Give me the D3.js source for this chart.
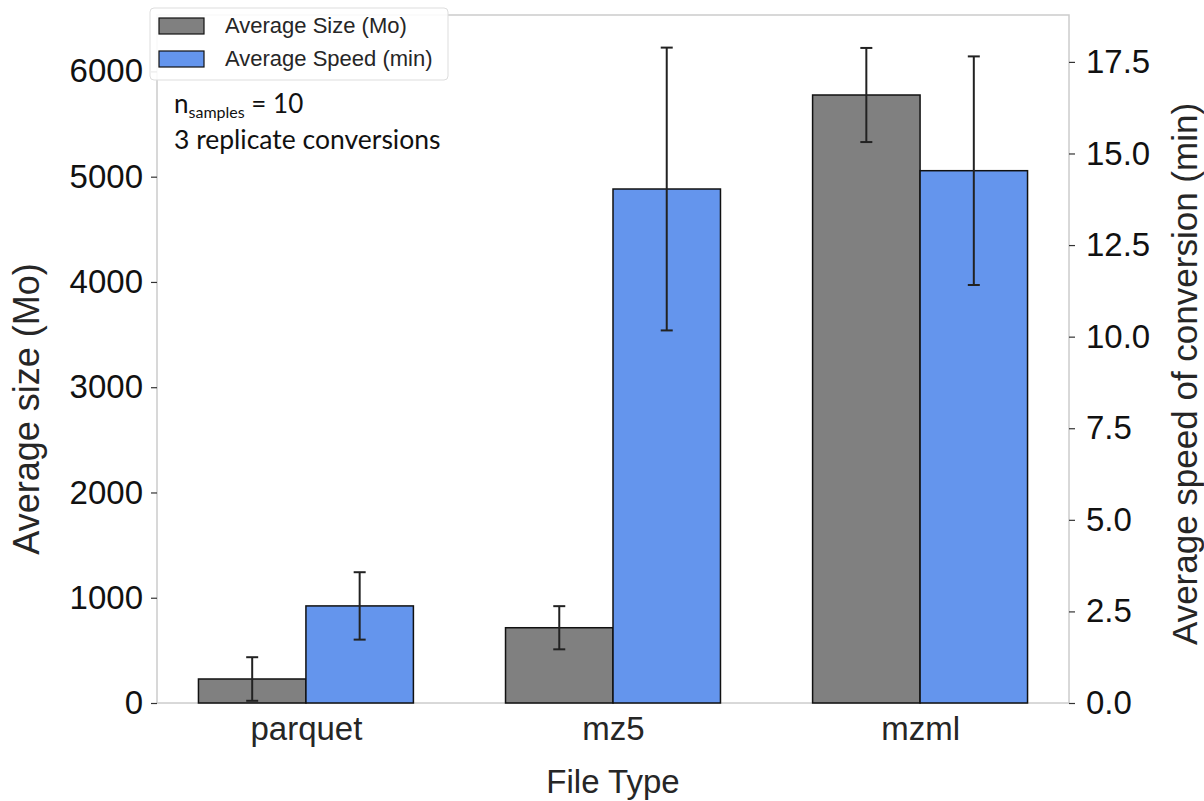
<!DOCTYPE html>
<html>
<head>
<meta charset="utf-8">
<script src="https://cdn.jsdelivr.net/npm/d3@7"></script>
<style>
  body { margin: 0; background: #fff; }
  text { font-family: "Liberation Sans", Arial, sans-serif; }
</style>
</head>
<body>
<div id="canvas"></div>
<script>
"use strict";

/* Data */
let categories = ["parquet", "mz5", "mzml"];
let sizeMean = [228, 715, 5776];
let sizeErr = [207, 205, 447];
let speedMean = [2.65, 14.03, 14.53];
let speedErr = [0.92, 3.86, 3.12];
let sizeTicks = [0, 1000, 2000, 3000, 4000, 5000, 6000];
let speedTicks = [0, 2.5, 5, 7.5, 10, 12.5, 15, 17.5];

/* SVG setup */
let svgWidth = 1204;
let svgHeight = 801;
let plotLeft = 157, plotRight = 1069, plotTop = 15, plotBottom = 703;
let barW = 0.35;

let svg = d3.select("#canvas")
  .append("svg")
  .attr("width", svgWidth)
  .attr("height", svgHeight);

/* Scales */
let xScale = d3.scaleLinear().domain([-0.485, 2.485]).range([plotLeft, plotRight]);
let ySize = d3.scaleLinear().domain([0, 6536]).range([plotBottom, plotTop]);
let ySpeed = d3.scaleLinear().domain([0, 18.78]).range([plotBottom, plotTop]);

/* Spines */
svg.append("rect")
  .attr("x", plotLeft)
  .attr("y", plotTop)
  .attr("width", plotRight - plotLeft)
  .attr("height", plotBottom - plotTop)
  .attr("fill", "none")
  .attr("stroke", "#cccccc")
  .attr("stroke-width", 1.5);

/* Bars */
function drawBars(means, yScale, offset, color) {
  for (let i = 0; i < categories.length; i++) {
    let x0 = xScale(i + offset);
    let x1 = xScale(i + offset + barW);
    svg.append("rect")
      .attr("x", x0)
      .attr("y", yScale(means[i]))
      .attr("width", x1 - x0)
      .attr("height", yScale(0) - yScale(means[i]))
      .attr("fill", color)
      .attr("stroke", "#111")
      .attr("stroke-width", 1.5);
  }
}

function drawErrors(means, errs, yScale, offset) {
  for (let i = 0; i < categories.length; i++) {
    let cx = xScale(i + offset + barW / 2);
    let yt = yScale(means[i] + errs[i]);
    let yb = yScale(means[i] - errs[i]);
    svg.append("line")
      .attr("x1", cx).attr("x2", cx)
      .attr("y1", yt).attr("y2", yb)
      .attr("stroke", "#222").attr("stroke-width", 2);
    [yt, yb].forEach(function (y) {
      svg.append("line")
        .attr("x1", cx - 6).attr("x2", cx + 6)
        .attr("y1", y).attr("y2", y)
        .attr("stroke", "#222").attr("stroke-width", 2);
    });
  }
}

drawBars(sizeMean, ySize, -barW, "#808080");
drawBars(speedMean, ySpeed, 0, "#6495ed");
drawErrors(sizeMean, sizeErr, ySize, -barW);
drawErrors(speedMean, speedErr, ySpeed, 0);

/* Left axis */
let leftAxis = svg.append("g")
  .attr("transform", "translate(" + plotLeft + ",0)")
  .call(d3.axisLeft(ySize).tickValues(sizeTicks).tickSize(6).tickPadding(8)
    .tickFormat(d3.format("d")));
leftAxis.select(".domain").remove();

/* Right axis */
let rightAxis = svg.append("g")
  .attr("transform", "translate(" + plotRight + ",0)")
  .call(d3.axisRight(ySpeed).tickValues(speedTicks).tickSize(6).tickPadding(11)
    .tickFormat(d3.format(".1f")));
rightAxis.select(".domain").remove();

/* Bottom axis */
let bottomAxis = svg.append("g")
  .attr("transform", "translate(0," + plotBottom + ")")
  .call(d3.axisBottom(xScale).tickValues([0, 1, 2]).tickSize(0).tickPadding(14)
    .tickFormat(function (d) { return categories[d]; }));
bottomAxis.select(".domain").remove();

svg.selectAll(".tick line").attr("stroke", "#333").attr("stroke-width", 1.2);
svg.selectAll(".tick text")
  .attr("fill", "#111")
  .style("font-size", "33px")
  .style("font-family", "'Liberation Sans', Arial, sans-serif");
bottomAxis.selectAll(".tick text").attr("fill", "#262626");

/* Axis labels */
svg.append("text")
  .attr("x", xScale(1))
  .attr("y", 793)
  .attr("text-anchor", "middle")
  .attr("fill", "#262626")
  .style("font-size", "33px")
  .text("File Type");

svg.append("text")
  .attr("transform", "translate(39,409) rotate(-90)")
  .attr("text-anchor", "middle")
  .attr("fill", "#262626")
  .style("font-size", "36px")
  .text("Average size (Mo)");

svg.append("text")
  .attr("transform", "translate(1197,374) rotate(-90)")
  .attr("text-anchor", "middle")
  .attr("fill", "#262626")
  .style("font-size", "35px")
  .text("Average speed of conversion (min)");

/* Legend */
let legX = 150, legY = 8;
svg.append("rect")
  .attr("x", legX)
  .attr("y", legY)
  .attr("width", 298)
  .attr("height", 72)
  .attr("rx", 4)
  .attr("fill", "white")
  .attr("fill-opacity", 0.9)
  .attr("stroke", "#dddddd");

let legendItems = [
  { label: "Average Size (Mo)", color: "#808080" },
  { label: "Average Speed (min)", color: "#6495ed" }
];
legendItems.forEach(function (d, i) {
  svg.append("rect")
    .attr("x", legX + 9)
    .attr("y", legY + 10 + i * 33)
    .attr("width", 45)
    .attr("height", 16)
    .attr("fill", d.color)
    .attr("stroke", "#111")
    .attr("stroke-width", 1.2);
  svg.append("text")
    .attr("x", legX + 75)
    .attr("y", legY + 25 + i * 33)
    .attr("fill", "#262626")
    .style("font-size", "22px")
    .text(d.label);
});

/* Annotation */
let note = svg.append("text")
  .attr("x", 174)
  .attr("y", 113)
  .attr("fill", "#111")
  .style("font-family", "Lato, sans-serif")
  .style("font-size", "26px");
note.append("tspan").text("n");
note.append("tspan").attr("dy", 5).style("font-size", "16px").text("samples");
note.append("tspan").attr("dy", -5).text(" = 10");

svg.append("text")
  .attr("x", 174)
  .attr("y", 149)
  .attr("fill", "#111")
  .style("font-family", "Lato, sans-serif")
  .style("font-size", "26.5px")
  .text("3 replicate conversions");
</script>
</body>
</html>
